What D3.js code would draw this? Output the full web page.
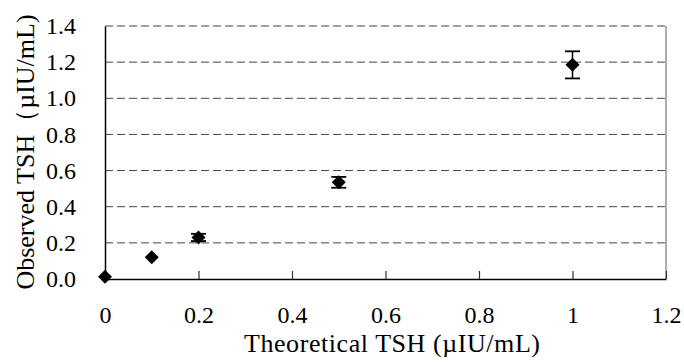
<!DOCTYPE html>
<html>
<head>
<meta charset="utf-8">
<script src="https://cdn.jsdelivr.net/npm/d3@7"></script>
<style>
  body { margin: 0; background: #fff; }
  svg text { font-family: "Liberation Serif", "Times New Roman", serif; fill: #000; }
</style>
</head>
<body>
<div id="chart"></div>
<script>
// données
const theorique = [0, 0.1, 0.2, 0.5, 1.0];
const observe = [0.012, 0.12, 0.23, 0.535, 1.185];
const ecart = [0, 0, 0.02, 0.03, 0.075];

const ticksX = [0, 0.2, 0.4, 0.6, 0.8, 1, 1.2];
const ticksY = [0, 0.2, 0.4, 0.6, 0.8, 1.0, 1.2, 1.4];

const W = 684, H = 363;
const margin = { top: 26, right: 18, bottom: 84, left: 105 },
    width = W - margin.left - margin.right,
    height = H - margin.top - margin.bottom;

const svg = d3.select("#chart").append("svg")
    .attr("width", W)
    .attr("height", H);

const g = svg.append("g")
    .attr("transform", "translate(" + margin.left + "," + margin.top + ")");

const x = d3.scaleLinear().domain([0, 1.2]).range([0, width]);
const y = d3.scaleLinear().domain([0, 1.4]).range([height, 0]);

// grille pointillée
g.selectAll(".grille")
    .data(ticksY.filter(d => d > 0))
    .enter().append("line")
    .attr("x1", 0).attr("x2", width)
    .attr("y1", d => y(d)).attr("y2", d => y(d))
    .attr("stroke", "#444")
    .attr("stroke-width", 1)
    .attr("stroke-dasharray", "8,4");

// bord droit
g.append("line")
    .attr("x1", width).attr("x2", width)
    .attr("y1", 0).attr("y2", height)
    .attr("stroke", "#777").attr("stroke-width", 1.2);

// axe X
const axeX = d3.axisBottom(x).tickValues(ticksX)
    .tickFormat(d => d3.format("")(d))
    .tickSizeInner(-8).tickSizeOuter(0).tickPadding(27);
const gx = g.append("g")
    .attr("transform", "translate(0," + height + ")")
    .call(axeX)
    .attr("font-family", null).attr("font-size", null);
gx.select(".domain").attr("stroke", "#000").attr("stroke-width", 1.5);
gx.selectAll(".tick line").attr("stroke", "#333").attr("stroke-width", 1.2);
gx.selectAll(".tick text")
    .style("font-size", "24px")
    .style("font-family", "'Liberation Serif', serif");

// axe Y
const axeY = d3.axisLeft(y).tickValues(ticksY)
    .tickFormat(d3.format(".1f"))
    .tickSize(0).tickPadding(29);
const gy = g.append("g").call(axeY)
    .attr("font-family", null).attr("font-size", null);
gy.select(".domain").attr("stroke", "#000").attr("stroke-width", 1.5);
gy.selectAll(".tick text")
    .style("font-size", "24px")
    .style("font-family", "'Liberation Serif', serif");

// barres d'erreur
const pts = theorique.map((t, i) => ({ t: t, v: observe[i], e: ecart[i] }));
const barres = g.selectAll(".err").data(pts.filter(d => d.e > 0)).enter().append("g");
barres.append("line")
    .attr("x1", d => x(d.t)).attr("x2", d => x(d.t))
    .attr("y1", d => y(d.v - d.e)).attr("y2", d => y(d.v + d.e))
    .attr("stroke", "#000").attr("stroke-width", 1.5);
barres.append("line")
    .attr("x1", d => x(d.t) - 7.5).attr("x2", d => x(d.t) + 7.5)
    .attr("y1", d => y(d.v + d.e)).attr("y2", d => y(d.v + d.e))
    .attr("stroke", "#000").attr("stroke-width", 1.8);
barres.append("line")
    .attr("x1", d => x(d.t) - 7.5).attr("x2", d => x(d.t) + 7.5)
    .attr("y1", d => y(d.v - d.e)).attr("y2", d => y(d.v - d.e))
    .attr("stroke", "#000").attr("stroke-width", 1.8);

// losanges
const losange = d3.symbol().type(d3.symbolDiamond2).size(125);
g.selectAll(".pt").data(pts).enter().append("path")
    .attr("d", losange)
    .attr("transform", d => "translate(" + x(d.t) + "," + y(d.v) + ")")
    .attr("fill", "#000");

// titres des axes
svg.append("text")
    .attr("x", 392)
    .attr("y", 352)
    .attr("text-anchor", "middle")
    .style("font-size", "26px")
    .attr("textLength", 296)
    .text("Theoretical TSH (\u00b5IU/mL)");

svg.append("text")
    .attr("transform", "translate(34,152) rotate(-90)")
    .attr("text-anchor", "middle")
    .style("font-size", "26px")
    .text("Observed TSH\uff08\u00b5IU/mL)");
</script>
</body>
</html>
